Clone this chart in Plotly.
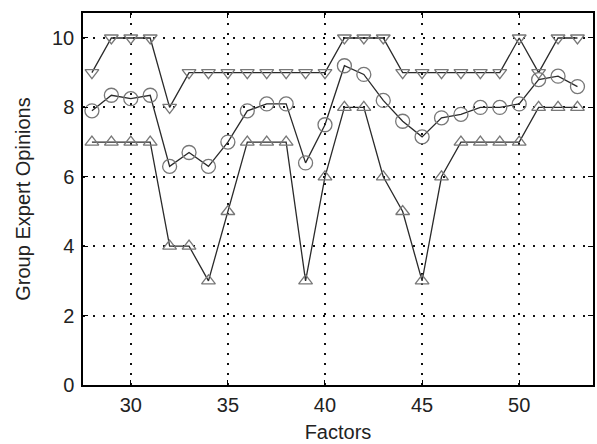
import plotly.graph_objects as go

factors = list(range(28, 54))
upper = [9, 10, 10, 10, 8, 9, 9, 9, 9, 9, 9, 9, 9, 10, 10, 10, 9, 9, 9, 9, 9, 9, 10, 9, 10, 10]
middle = [7.9, 8.35, 8.25, 8.35, 6.3, 6.7, 6.3, 7.0, 7.9, 8.1, 8.1, 6.4, 7.5, 9.2, 8.95, 8.2,
          7.6, 7.15, 7.7, 7.8, 8.0, 8.0, 8.1, 8.8, 8.9, 8.6]
lower = [7, 7, 7, 7, 4, 4, 3, 5, 7, 7, 7, 3, 6, 8, 8, 6, 5, 3, 6, 7, 7, 7, 7, 8, 8, 8]
x_ticks = [30, 35, 40, 45, 50]
y_ticks = [0, 2, 4, 6, 8, 10]

line_col = "#2a2a2a"
mk_col = "#777777"
font_family = "Liberation Sans, Arial, sans-serif"

fig = go.Figure()
for vals, sym, size in [(upper, "triangle-down-open", 12),
                        (middle, "circle-open", 14),
                        (lower, "triangle-up-open", 12)]:
    fig.add_trace(go.Scatter(
        x=factors, y=vals, mode="lines+markers",
        line=dict(color=line_col, width=1.3),
        marker=dict(symbol=sym, size=size, color=mk_col, line=dict(width=1.3, color=mk_col)),
        showlegend=False))

axis_common = dict(
    showline=True, linecolor="black", linewidth=1.5, mirror="ticks",
    ticks="inside", ticklen=5, tickcolor="black", tickwidth=1,
    showgrid=True, gridcolor="#111", griddash="2px,8px", gridwidth=1.5,
    zeroline=False,
    tickfont=dict(family=font_family, size=20, color="#222"),
)

fig.update_layout(
    width=597, height=444,
    margin=dict(l=83, r=2, t=13, b=59),
    paper_bgcolor="white", plot_bgcolor="white",
    xaxis=dict(range=[27.54, 53.8], tickvals=x_ticks, ticklabelstandoff=1,
               title=dict(text="Factors", standoff=10,
                          font=dict(family=font_family, size=20, color="#222")),
               **axis_common),
    yaxis=dict(range=[0, 10.72], tickvals=y_ticks, ticklabelstandoff=3,
               title=dict(text="Group Expert Opinions", standoff=16,
                          font=dict(family=font_family, size=20, color="#222")),
               **axis_common),
)

fig.write_html("out.html")
